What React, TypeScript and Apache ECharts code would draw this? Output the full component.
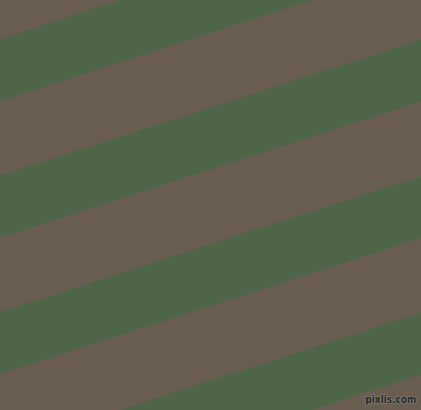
import { useEffect, useRef } from 'react';
import * as echarts from 'echarts';

const WIDTH = 421;
const HEIGHT = 410;

// left-edge y where each green stripe starts, in px from the top
const stripeStarts = [39, 175.5, 312, 448.5];
const stripeHeight = 62;
// how much a stripe rises over the whole width
const stripeRise = 136;

const BROWN = '#6a5e53';
const GREEN = '#4e6547';

export default function App() {
  const chartRef = useRef<HTMLDivElement>(null);

  useEffect(() => {
    if (!chartRef.current) return;
    const chart = echarts.init(chartRef.current, undefined, { renderer: 'svg' });

    const option: echarts.EChartsOption = {
      animation: false,
      backgroundColor: BROWN,
      grid: { left: 0, right: 0, top: 0, bottom: 0 },
      xAxis: { type: 'value', min: 0, max: WIDTH, show: false },
      yAxis: { type: 'value', min: 0, max: HEIGHT, inverse: true, show: false },
      series: [
        {
          type: 'custom',
          clip: true,
          data: stripeStarts.map((y) => [y, y + stripeHeight]),
          renderItem: (_params: any, api: any) => {
            const top = api.value(0);
            const bottom = api.value(1);
            const pts = [
              api.coord([0, top]),
              api.coord([WIDTH, top - stripeRise]),
              api.coord([WIDTH, bottom - stripeRise]),
              api.coord([0, bottom]),
            ];
            return {
              type: 'polygon',
              shape: { points: pts },
              style: { fill: GREEN },
            };
          },
        },
      ],
      graphic: [
        {
          type: 'text',
          right: 4,
          bottom: 5,
          style: {
            text: 'pixlis.com',
            font: 'bold 10px "Liberation Sans Narrow", "DejaVu Sans Condensed", "Liberation Sans"',
            fill: '#2b2b2b',
            stroke: 'rgba(170,170,170,0.5)',
            lineWidth: 1,
          },
        },
      ],
    };

    chart.setOption(option);
    return () => chart.dispose();
  }, []);

  return (
    <div
      ref={chartRef}
      style={{ position: 'fixed', left: 0, top: 0, width: WIDTH, height: HEIGHT }}
    />
  );
}
